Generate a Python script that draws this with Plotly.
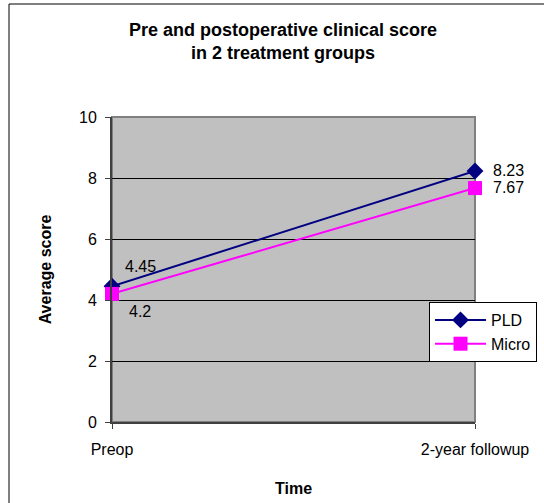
import plotly.graph_objects as go

categories = ["Preop", "2-year followup"]
pld_values = [4.45, 8.23]
micro_values = [4.2, 7.67]
pld_labels = ["4.45", "8.23"]
micro_labels = ["4.2", "7.67"]
y_ticks = [0, 2, 4, 6, 8, 10]

FONT = "Liberation Sans, Arial, sans-serif"
W, H = 544, 503
L, R, T, B = 112, 69, 117, 81
pw, ph = W - L - R, H - T - B

def px_x(px):
    return (px - L) / pw

def px_y(py):
    return (H - B - py) / ph

fig = go.Figure()
fig.add_trace(go.Scatter(
    x=categories, y=pld_values, name="PLD", mode="lines+markers",
    line=dict(color="#000080", width=2),
    marker=dict(symbol="diamond", size=13, color="#000080"),
    cliponaxis=False,
))
fig.add_trace(go.Scatter(
    x=categories, y=micro_values, name="Micro", mode="lines+markers",
    line=dict(color="#FF00FF", width=2),
    marker=dict(symbol="square", size=14, color="#FF00FF"),
    cliponaxis=False,
))

# data labels
offsets_pld = [(28, 20, "center"), (16, 0, "left")]
offsets_micro = [(28, -18, "center"), (16, 1, "left")]
for vals, labels, offs in [(pld_values, pld_labels, offsets_pld),
                           (micro_values, micro_labels, offsets_micro)]:
    for c, v, t, (dx, dy, anc) in zip(categories, vals, labels, offs):
        fig.add_annotation(x=c, y=v, xref="x", yref="y", text=t, showarrow=False,
                           xanchor=anc, yanchor="middle", xshift=dx, yshift=dy,
                           font=dict(family=FONT, size=16, color="black"))

# outer chart border
fig.add_shape(type="rect", xref="paper", yref="paper",
              x0=px_x(9), x1=px_x(560), y0=px_y(520), y1=px_y(4),
              line=dict(color="black", width=1), layer="below")
# plot area border (gray)
fig.add_shape(type="rect", xref="paper", yref="paper",
              x0=0, x1=1, y0=0, y1=1,
              line=dict(color="#808080", width=2), layer="between")

fig.update_layout(
    width=W, height=H,
    margin=dict(l=L, r=R, t=T, b=B, autoexpand=False),
    paper_bgcolor="white",
    plot_bgcolor="#C0C0C0",
    font=dict(family=FONT, size=16, color="black"),
    title=dict(text="<b>Pre and postoperative clinical score<br>in 2 treatment groups</b>",
               x=283 / W, xanchor="center", xref="container",
               y=1 - 36 / H, yanchor="top", yref="container",
               font=dict(family=FONT, size=18, color="black")),
    showlegend=True,
    legend=dict(x=px_x(429), y=px_y(302), xanchor="left", yanchor="top",
                bgcolor="white", bordercolor="black", borderwidth=1,
                itemwidth=51,
                font=dict(family=FONT, size=16, color="black")),
    xaxis=dict(type="category", range=[0, 1], tickvals=categories,
               automargin=False,
               showgrid=False, showline=True, linecolor="#404040", linewidth=2,
               ticks="outside", ticklen=5, tickcolor="#404040", tickwidth=1,
               ticklabelstandoff=7,
               tickfont=dict(family=FONT, size=16),
               title=dict(text="<b>Time</b>", font=dict(family=FONT, size=16), standoff=26)),
    yaxis=dict(range=[0, 10], tickvals=y_ticks,
               automargin=False,
               showgrid=True, gridcolor="black", gridwidth=1, zeroline=False,
               showline=True, linecolor="#404040", linewidth=2,
               ticks="outside", ticklen=5, tickcolor="#404040", tickwidth=1,
               ticklabelstandoff=5,
               tickfont=dict(family=FONT, size=16),
               title=dict(text="<b>Average score</b>", font=dict(family=FONT, size=16), standoff=23)),
)

fig.write_html("out.html")
